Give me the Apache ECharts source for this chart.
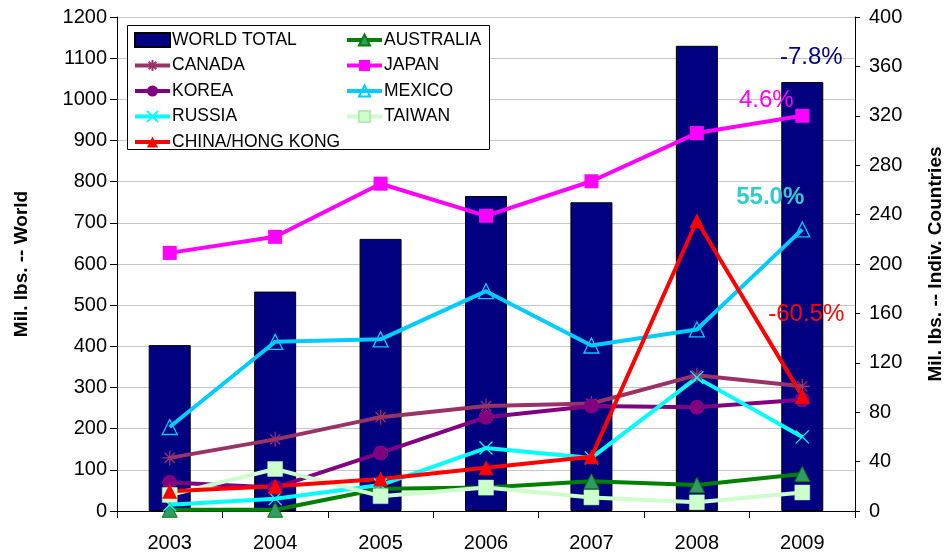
<!DOCTYPE html>
<html>
<head>
<meta charset="utf-8">
<script src="https://cdn.jsdelivr.net/npm/echarts@6/dist/echarts.min.js"></script>
<style>
  html, body { margin: 0; padding: 0; background: #fff; }
  #chart { width: 946px; height: 558px; }
</style>
</head>
<body>
<div id="chart"></div>
<script>
// years on the x axis
const years = ['2003', '2004', '2005', '2006', '2007', '2008', '2009'];
// world total, left axis (mil. lbs.)
const worldTotal = [403, 533, 661, 765, 750, 1130, 1042];
// individual countries, right axis (mil. lbs.)
const australia = [1, 1, 18, 19, 24, 21, 30];
const canada = [43, 58, 76, 85, 87, 110, 101];
const japan = [209, 222, 265, 239, 267, 306, 320];
const korea = [23, 19, 47, 76, 85, 84, 90];
const mexico = [68, 137, 139, 178, 134, 147, 228];
const russia = [5, 10, 21, 51, 43, 108, 60];
const taiwan = [13, 34, 12, 19, 11, 7, 15];
const chinaHK = [16, 20, 26, 35, 44, 235, 93];
// 2008 -> 2009 change notes
const noteWorld = '-7.8%';
const noteJapan = '4.6%';
const noteMexico = '55.0%';
const noteChina = '-60.5%';

const FONT = 'Liberation Sans, Arial, sans-serif';

// put a label on the last point only
function withNote(values, note, label) {
    return values.map(function (v, i) {
        if (i !== values.length - 1) return v;
        return {
            value: v,
            label: Object.assign({
                show: true,
                formatter: note,
                fontFamily: FONT,
                fontSize: 24
            }, label)
        };
    });
}

function lineSeries(name, data, color, symbol, size, itemStyle) {
    return {
        name: name,
        type: 'line',
        yAxisIndex: 1,
        data: data,
        symbol: symbol,
        symbolSize: size,
        showAllSymbol: true,
        lineStyle: { color: color, width: 4 },
        itemStyle: Object.assign({ color: color }, itemStyle || {}),
        emphasis: { disabled: true },
        animation: false
    };
}

const asterisk = 'path://M5,0L5,10M0,5L10,5M1.6,1.6L8.4,8.4M8.4,1.6L1.6,8.4';
const cross = 'path://M0,0L10,10M10,0L0,10';
const openTri = 'path://M5,0L10,9L0,9Z';

const legendCommon = {
    z: 5,
    orient: 'vertical',
    top: 31,
    padding: 0,
    itemWidth: 35,
    itemHeight: 14,
    itemGap: 7.5,
    selectedMode: false,
    lineStyle: { width: 4 },
    textStyle: { fontSize: 17.5, color: '#000', fontFamily: FONT, padding: [0, 0, 0, -3] }
};

const myChart = echarts.init(document.getElementById('chart'));

const option = {
    animation: false,
    textStyle: { fontFamily: FONT },
    grid: { left: 117, right: 91, top: 17, bottom: 47, outerBoundsMode: 'none', containLabel: false },
    graphic: [{
        type: 'rect',
        z: 3,
        shape: { x: 127.5, y: 25.5, width: 362, height: 124 },
        style: { fill: '#fff', stroke: '#000', lineWidth: 1 }
    }],
    legend: [
        Object.assign({}, legendCommon, {
            left: 133,
            data: [{ name: 'WORLD TOTAL', icon: 'rect' }, 'CANADA', 'KOREA', 'RUSSIA', 'CHINA/HONG KONG']
        }),
        Object.assign({}, legendCommon, {
            left: 345,
            data: ['AUSTRALIA', 'JAPAN', 'MEXICO', 'TAIWAN']
        })
    ],
    xAxis: {
        type: 'category',
        data: years,
        axisLine: { lineStyle: { color: '#000', width: 1 } },
        axisTick: { show: true, length: 7, lineStyle: { color: '#000' } },
        axisLabel: { color: '#000', fontSize: 20, margin: 22, fontFamily: FONT }
    },
    yAxis: [
        {
            type: 'value',
            min: 0,
            max: 1200,
            interval: 100,
            name: 'Mil. lbs. -- World',
            nameLocation: 'middle',
            nameRotate: 90,
            nameGap: 86,
            nameTextStyle: { fontSize: 19, fontWeight: 'bold', color: '#000', fontFamily: FONT },
            axisLine: { show: true, lineStyle: { color: '#000' } },
            axisTick: { show: true, length: 7, lineStyle: { color: '#000' } },
            axisLabel: {
                color: '#000', fontSize: 20, margin: 10, fontFamily: FONT,
                formatter: function (v) { return String(v); }
            },
            splitLine: { show: true, lineStyle: { color: '#c6c6c6', width: 1 } }
        },
        {
            type: 'value',
            min: 0,
            max: 400,
            interval: 40,
            position: 'right',
            name: 'Mil. lbs. -- Indiv. Countries',
            nameLocation: 'middle',
            nameRotate: 90,
            nameGap: 71,
            nameTextStyle: { fontSize: 19, fontWeight: 'bold', color: '#000', fontFamily: FONT },
            axisLine: { show: true, lineStyle: { color: '#000' } },
            axisTick: { show: true, length: 5, lineStyle: { color: '#000' } },
            axisLabel: { color: '#000', fontSize: 20, margin: 14, fontFamily: FONT },
            splitLine: { show: false }
        }
    ],
    series: [
        {
            name: 'WORLD TOTAL',
            type: 'bar',
            yAxisIndex: 0,
            barWidth: 42,
            itemStyle: { color: '#000080', borderColor: '#000', borderWidth: 1 },
            emphasis: { disabled: true },
            data: withNote(worldTotal, noteWorld, { position: 'top', offset: [9, -8], color: '#000080' })
        },
        lineSeries('AUSTRALIA', australia, '#008000', 'triangle', 15,
            { color: '#339966', borderColor: '#008000', borderWidth: 1 }),
        lineSeries('CANADA', canada, '#993366', asterisk, 15,
            { borderColor: '#993366', borderWidth: 1.3 }),
        lineSeries('JAPAN', withNote(japan, noteJapan,
            { position: 'inside', offset: [-36, -15], color: '#ff00ff' }), '#ff00ff', 'rect', 14),
        lineSeries('KOREA', korea, '#800080', 'circle', 15),
        lineSeries('MEXICO', withNote(mexico, noteMexico,
            { position: 'inside', offset: [-32, -32], color: '#33cccc', fontWeight: 'bold' }),
            '#00ccff', openTri, 15,
            { color: 'rgba(0,0,0,0)', borderColor: '#00ccff', borderWidth: 1.3 }),
        lineSeries('RUSSIA', russia, '#00ffff', cross, 13,
            { borderColor: '#00ffff', borderWidth: 1.3 }),
        lineSeries('TAIWAN', taiwan, '#ccffcc', 'rect', 15,
            { borderColor: '#b8e8b8', borderWidth: 0.5 }),
        lineSeries('CHINA/HONG KONG', withNote(chinaHK, noteChina,
            { position: 'inside', offset: [4, -82], color: '#ff0000' }), '#ff0000', 'triangle', 15)
    ]
};

myChart.setOption(option);
</script>
</body>
</html>
